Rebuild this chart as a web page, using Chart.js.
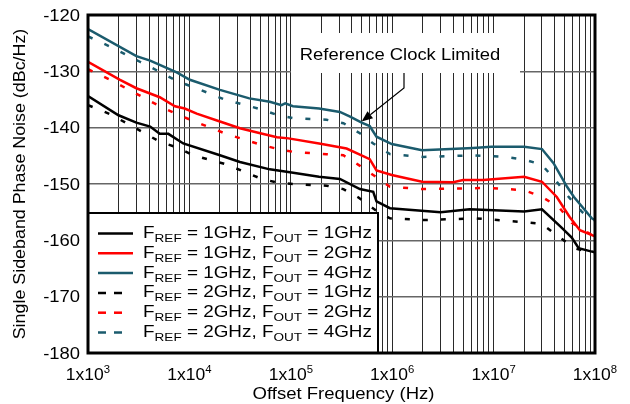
<!DOCTYPE html>
<html lang="en">
<head>
<meta charset="UTF-8">
<title>Single Sideband Phase Noise</title>
<script src="https://cdn.jsdelivr.net/npm/chart.js"></script>
<style>
  html, body { margin: 0; padding: 0; background: #fff; }
  #wrap { width: 630px; height: 404px; }
</style>
</head>
<body>
<div id="wrap"><canvas id="pn" width="630" height="404"></canvas></div>
<script>
// offset frequency (Hz) / phase noise (dBc/Hz)
const freqRef1Out1  = [1e3, 2e3, 3e3, 4.1e3, 5.1e3, 6.2e3, 8.7e3, 2e4, 3.15e4, 6.2e4, 9.8e4, 1.9e5, 3.05e5, 4.8e5, 6.5e5, 7e5, 9.5e5, 3e6, 5.8e6, 2e7, 3e7, 4.6e7, 5.9e7, 6.9e7, 9.3e7, 1e8];
const noiseRef1Out1 = [-134.4, -137.8, -139.1, -139.8, -141.1, -141.1, -142.8, -144.9, -146.1, -147.4, -147.9, -148.7, -149.1, -150.9, -151.4, -153.1, -154.3, -155.0, -154.5, -154.9, -154.5, -157.6, -159.5, -161.4, -162.0, -162.1];

const freqRef1Out2  = [1e3, 2.07e3, 3e3, 5.1e3, 7.2e3, 9e3, 1.18e4, 2e4, 3.15e4, 5e4, 7.3e4, 9.5e4, 1.9e5, 3.55e5, 4.8e5, 6e5, 7e5, 9.9e5, 1.97e6, 4e6, 5e6, 7.9e6, 2e7, 3e7, 4.2e7, 5.6e7, 7.1e7, 1e8];
const noiseRef1Out2 = [-128.3, -131.5, -133.0, -134.6, -136.2, -136.6, -137.5, -138.9, -140.1, -141.0, -141.7, -141.9, -142.8, -143.7, -144.8, -145.6, -147.6, -148.4, -149.6, -149.7, -149.3, -149.3, -148.7, -149.6, -152.3, -155.8, -158.2, -159.3];

const freqRef1Out4  = [1e3, 3e3, 4.1e3, 7.5e3, 1.01e4, 2e4, 3.9e4, 6.2e4, 8.1e4, 8.8e4, 1.05e5, 1.9e5, 3.05e5, 3.8e5, 5e5, 6e5, 7e5, 9.9e5, 1.97e6, 6.3e6, 9.5e6, 2e7, 3e7, 3.9e7, 5.3e7, 6.2e7, 9.3e7, 1e8];
const noiseRef1Out4 = [-122.5, -127.3, -128.1, -130.2, -131.5, -133.3, -134.8, -135.4, -136.0, -135.7, -136.2, -136.6, -137.2, -138.0, -139.1, -139.7, -141.6, -142.9, -144.0, -143.6, -143.4, -143.4, -143.8, -146.3, -150.5, -152.3, -156.1, -156.4];

const freqRef2Out1  = [1e3, 1.65e3, 3.4e3, 5.1e3, 7.5e3, 1.09e4, 2.3e4, 5e4, 7.5e4, 1.06e5, 2.25e5, 3.3e5, 4.65e5, 6.8e5, 9.5e5, 2.05e6, 6.6e6, 2.1e7, 3e7, 4.4e7, 6.5e7, 1e8];
const noiseRef2Out1 = [-136.0, -137.6, -140.7, -142.5, -143.5, -144.9, -146.5, -149.0, -149.8, -150.0, -150.3, -150.9, -152.4, -154.6, -156.1, -156.4, -156.1, -156.8, -157.1, -159.4, -161.5, -162.3];

const freqRef2Out2  = [1e3, 1.65e3, 3.4e3, 5.1e3, 7.5e3, 1.09e4, 2.3e4, 5e4, 7.5e4, 1.06e5, 2.25e5, 3.3e5, 4.65e5, 6.5e5, 9.5e5, 2.05e6, 9.2e6, 2e7, 3e7, 4.4e7, 5.9e7, 1e8];
const noiseRef2Out2 = [-129.6, -131.5, -134.5, -136.2, -137.6, -138.8, -141.1, -143.0, -143.8, -144.3, -144.7, -144.9, -146.6, -148.4, -150.5, -150.9, -150.7, -151.1, -152.3, -154.1, -156.9, -159.4];

const freqRef2Out4  = [1e3, 1.65e3, 3.25e3, 5.1e3, 7.5e3, 1.09e4, 2.3e4, 5e4, 7.5e4, 1.06e5, 2.25e5, 3.3e5, 4.8e5, 6.5e5, 9.5e5, 2.05e6, 6.3e6, 1.3e7, 2.05e7, 3e7, 4.2e7, 5.5e7, 7.4e7, 8.9e7, 1e8];
const noiseRef2Out4 = [-123.8, -125.6, -128.3, -130.1, -131.7, -132.8, -135.1, -136.7, -137.8, -138.3, -138.6, -139.2, -141.0, -142.8, -144.7, -145.2, -144.9, -145.2, -145.7, -146.6, -149.6, -152.3, -154.9, -156.1, -156.5];

const refLabels = ['1GHz', '1GHz', '1GHz', '2GHz', '2GHz', '2GHz'];
const outLabels = ['1GHz', '2GHz', '4GHz', '1GHz', '2GHz', '4GHz'];

const yTickValues = [-120, -130, -140, -150, -160, -170, -180];
const xTickExponents = [3, 4, 5, 6, 7, 8];

const calloutText = 'Reference Clock Limited';
const calloutPoint = [5e5, -139.1];

// log grid: 1..9 x 10^n
const xGridValues = [];
xTickExponents.forEach((e, i) => {
  if (i === xTickExponents.length - 1) { xGridValues.push(Math.pow(10, e)); return; }
  for (let m = 1; m <= 9; m++) xGridValues.push(m * Math.pow(10, e));
});

const TEAL = '#1b5b6d';
const colors = ['#000000', '#ff0000', TEAL, '#000000', '#ff0000', TEAL];
const freqs = [freqRef1Out1, freqRef1Out2, freqRef1Out4, freqRef2Out1, freqRef2Out2, freqRef2Out4];
const noises = [noiseRef1Out1, noiseRef1Out2, noiseRef1Out4, noiseRef2Out1, noiseRef2Out2, noiseRef2Out4];

const datasets = freqs.map((f, i) => ({
  label: 'FREF = ' + refLabels[i] + ', FOUT = ' + outLabels[i],
  data: f.map((x, j) => ({ x: x, y: noises[i][j] })),
  borderColor: colors[i],
  borderWidth: 2.5,
  borderDash: i < 3 ? [] : [5, 13],
  pointRadius: 0,
  tension: 0,
  fill: false
}));

const FONT = '"Liberation Sans", Arial, sans-serif';

// draws a list of runs [text, size, dy] with a horizontal stretch
function drawRuns(ctx, runs, x, y, sx, align) {
  let w = 0;
  runs.forEach(r => { ctx.font = r[1] + 'px ' + FONT; w += ctx.measureText(r[0]).width; });
  w *= sx;
  let x0 = align === 'center' ? x - w / 2 : align === 'right' ? x - w : x;
  ctx.save();
  ctx.translate(x0, y);
  ctx.scale(sx, 1);
  ctx.textAlign = 'left';
  ctx.textBaseline = 'alphabetic';
  ctx.fillStyle = '#000';
  let cx = 0;
  runs.forEach(r => {
    ctx.font = r[1] + 'px ' + FONT;
    ctx.fillText(r[0], cx, r[2]);
    cx += ctx.measureText(r[0]).width;
  });
  ctx.restore();
}

const decorPlugin = {
  id: 'decor',
  afterDraw(chart) {
    const ctx = chart.ctx;
    const a = chart.chartArea;
    const xs = chart.scales.x, ys = chart.scales.y;

    // callout box + arrow
    ctx.save();
    ctx.fillStyle = '#fff';
    ctx.fillRect(291, 33, 229, 40);
    drawRuns(ctx, [[calloutText, 16, 0]], 400, 60, 1.15, 'center');
    const tx = xs.getPixelForValue(calloutPoint[0]);
    const ty = ys.getPixelForValue(calloutPoint[1]) - 1;
    const ex = 404, ey = 88;
    ctx.strokeStyle = '#000';
    ctx.lineWidth = 1.2;
    ctx.beginPath();
    ctx.moveTo(ex, 73);
    ctx.lineTo(ex, ey);
    const ang = Math.atan2(ty - ey, tx - ex);
    const hl = 11, hw = 4.5;
    const bx = tx - hl * Math.cos(ang), by = ty - hl * Math.sin(ang);
    ctx.lineTo(bx, by);
    ctx.stroke();
    ctx.fillStyle = '#000';
    ctx.beginPath();
    ctx.moveTo(tx, ty);
    ctx.lineTo(bx + hw * Math.sin(ang), by - hw * Math.cos(ang));
    ctx.lineTo(bx - hw * Math.sin(ang), by + hw * Math.cos(ang));
    ctx.closePath();
    ctx.fill();
    ctx.restore();

    // legend box
    ctx.save();
    ctx.fillStyle = '#fff';
    ctx.fillRect(a.left, 213, 378 - a.left, a.bottom - 213);
    ctx.strokeStyle = '#000';
    ctx.lineWidth = 2;
    ctx.strokeRect(a.left, 213, 378 - a.left, a.bottom - 213);
    datasets.forEach((d, i) => {
      const base = 238 + i * 19.8;
      const ly = base - 4.5;
      ctx.strokeStyle = d.borderColor;
      ctx.lineWidth = 2.5;
      ctx.setLineDash(i < 3 ? [] : [8, 8]);
      ctx.beginPath();
      ctx.moveTo(98, ly);
      ctx.lineTo(i < 3 ? 133 : 123, ly);
      ctx.stroke();
      ctx.setLineDash([]);
      drawRuns(ctx, [
        ['F', 16, 0], ['REF', 11.5, 4], [' = ' + refLabels[i] + ', F', 16, 0],
        ['OUT', 11.5, 4], [' = ' + outLabels[i], 16, 0]
      ], 143, base, 1.18, 'left');
    });
    ctx.restore();

    // frame
    ctx.save();
    ctx.strokeStyle = '#000';
    ctx.lineWidth = 3;
    ctx.strokeRect(a.left, a.top, a.right - a.left, a.bottom - a.top);
    ctx.restore();

    // y tick labels
    yTickValues.forEach(v => {
      drawRuns(ctx, [[String(v), 16, 0]], 80, ys.getPixelForValue(v) + 5.7, 1.15, 'right');
    });
    // x tick labels 1x10^n
    xTickExponents.forEach(e => {
      drawRuns(ctx, [['1x10', 17, 0], [String(e), 11, -7]], xs.getPixelForValue(Math.pow(10, e)), 380, 1.03, 'center');
    });
    // axis titles
    drawRuns(ctx, [['Offset Frequency (Hz)', 17, 0]], (a.left + a.right) / 2 + 2, 399, 1.09, 'center');
    ctx.save();
    ctx.translate(25, (a.top + a.bottom) / 2);
    ctx.rotate(-Math.PI / 2);
    drawRuns(ctx, [['Single Sideband Phase Noise (dBc/Hz)', 17, 0]], 0, 0, 1.05, 'center');
    ctx.restore();
  }
};

new Chart(document.getElementById('pn'), {
  type: 'line',
  data: { datasets: datasets },
  options: {
    responsive: false,
    animation: false,
    layout: { padding: { left: 88, right: 35, top: 15, bottom: 51 } },
    plugins: { legend: { display: false }, tooltip: { enabled: false } },
    scales: {
      x: {
        type: 'logarithmic',
        min: 1e3,
        max: 1e8,
        afterBuildTicks: s => { s.ticks = xGridValues.map(v => ({ value: v })); },
        afterFit: s => { s.height = 0; },
        ticks: { display: false },
        grid: { color: '#2a2a2a', lineWidth: 1, drawTicks: false },
        border: { display: false }
      },
      y: {
        type: 'linear',
        min: -180,
        max: -120,
        afterBuildTicks: s => { s.ticks = yTickValues.map(v => ({ value: v })); },
        afterFit: s => { s.width = 0; },
        ticks: { display: false },
        grid: { color: '#666', lineWidth: 1.5, drawTicks: false },
        border: { display: false }
      }
    }
  },
  plugins: [decorPlugin]
});
</script>
</body>
</html>
